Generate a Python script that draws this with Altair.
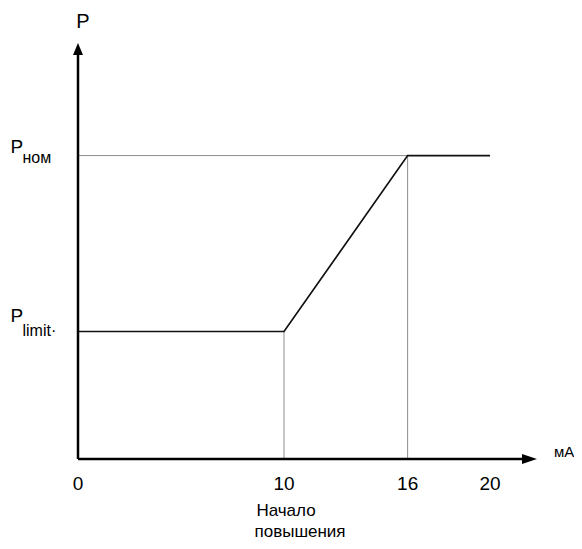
import altair as alt
import pandas as pd

# ---- data ----
P_LIMIT = 1.0
P_NOM = 2.38
X_MAX = 22.28
Y_MAX = 3.263

x_ticks = [0, 10, 16, 20]
x_tick_labels = ["0", "10", "16", "20"]

curve_current = [0, 10, 16, 20]
curve_power = [P_LIMIT, P_LIMIT, P_NOM, P_NOM]

guide_x = [0, 10, 16]
guide_x2 = [16, 10, 16]
guide_y = [P_NOM, 0, 0]
guide_y2 = [P_NOM, P_LIMIT, P_NOM]

W, H = 459, 416
FONT = "Liberation Sans"

xs = alt.Scale(domain=[0, X_MAX], nice=False, zero=False)
ys = alt.Scale(domain=[0, Y_MAX], nice=False, zero=False)

one = pd.DataFrame({"k": [0]})

guides = alt.Chart(pd.DataFrame({"x": guide_x, "x2": guide_x2, "y": guide_y, "y2": guide_y2})).mark_rule(
    color="#8c8c8c", strokeWidth=1
).encode(
    x=alt.X("x:Q", scale=xs, axis=None), x2="x2:Q",
    y=alt.Y("y:Q", scale=ys, axis=None), y2="y2:Q",
)

curve = alt.Chart(pd.DataFrame({"x": curve_current, "y": curve_power})).mark_line(
    color="#111111", strokeWidth=1.7
).encode(
    x=alt.X("x:Q", scale=xs, axis=None),
    y=alt.Y("y:Q", scale=ys, axis=None),
)

y_axis = alt.Chart(one).mark_rule(color="black", strokeWidth=2.5).encode(
    x=alt.value(0), y=alt.value(H), y2=alt.value(10)
)
x_axis = alt.Chart(one).mark_rule(color="black", strokeWidth=2.5).encode(
    x=alt.value(0), x2=alt.value(W - 10), y=alt.value(H)
)

y_arrow = alt.Chart(one).mark_point(
    shape="M0,-1L0.83,1L-0.83,1Z", filled=True, size=144, color="black", opacity=1
).encode(x=alt.value(0), y=alt.value(6))
x_arrow = alt.Chart(one).mark_point(
    shape="M1,0L-1,0.67L-1,-0.67Z", filled=True, size=225, color="black", opacity=1
).encode(x=alt.value(W - 7.5), y=alt.value(H))

tick_text = alt.Chart(pd.DataFrame({"x": x_ticks, "label": x_tick_labels})).mark_text(
    font=FONT, fontSize=19, align="center", baseline="alphabetic", color="black"
).encode(x=alt.X("x:Q", scale=xs, axis=None), y=alt.value(447), text="label:N")

caption1 = alt.Chart(pd.DataFrame({"x": [10]})).mark_text(
    font=FONT, fontSize=17, align="center", baseline="alphabetic", color="black", text="Начало", dx=2
).encode(x=alt.X("x:Q", scale=xs, axis=None), y=alt.value(473))
caption2 = alt.Chart(pd.DataFrame({"x": [10]})).mark_text(
    font=FONT, fontSize=17, align="center", baseline="alphabetic", color="black", text="повышения", dx=16
).encode(x=alt.X("x:Q", scale=xs, axis=None), y=alt.value(494))

unit_text = alt.Chart(one).mark_text(
    font=FONT, fontSize=15, align="left", baseline="alphabetic", color="black", text="мА"
).encode(x=alt.value(476), y=alt.value(414))

p_top = alt.Chart(one).mark_text(
    font=FONT, fontSize=20, align="center", baseline="alphabetic", color="black", text="P"
).encode(x=alt.value(5), y=alt.value(-15))

pnom_P = alt.Chart(pd.DataFrame({"y": [P_NOM]})).mark_text(
    font=FONT, fontSize=19, align="left", baseline="alphabetic", color="black", text="P", dy=-3
).encode(x=alt.value(-67.5), y=alt.Y("y:Q", scale=ys, axis=None))
pnom_sub = alt.Chart(pd.DataFrame({"y": [P_NOM]})).mark_text(
    font=FONT, fontSize=16, align="left", baseline="alphabetic", color="black", text="ном", dy=7
).encode(x=alt.value(-55.5), y=alt.Y("y:Q", scale=ys, axis=None))

plim_P = alt.Chart(pd.DataFrame({"y": [P_LIMIT]})).mark_text(
    font=FONT, fontSize=19, align="left", baseline="alphabetic", color="black", text="P", dy=-9.5
).encode(x=alt.value(-67.5), y=alt.Y("y:Q", scale=ys, axis=None))
plim_sub = alt.Chart(pd.DataFrame({"y": [P_LIMIT]})).mark_text(
    font=FONT, fontSize=16, align="left", baseline="alphabetic", color="black", text="limit·", dy=4.5
).encode(x=alt.value(-55.5), y=alt.Y("y:Q", scale=ys, axis=None))

chart = alt.layer(
    guides, curve, y_axis, x_axis, y_arrow, x_arrow,
    tick_text, caption1, caption2, unit_text, p_top,
    pnom_P, pnom_sub, plim_P, plim_sub,
).properties(
    width=W, height=H,
    autosize=alt.AutoSizeParams(type="none"),
    padding={"left": 70, "top": 35, "right": 37, "bottom": 82},
    background="white",
).configure_view(stroke=None)

chart.save("out.html", embed_options={"renderer": "svg", "actions": False})
